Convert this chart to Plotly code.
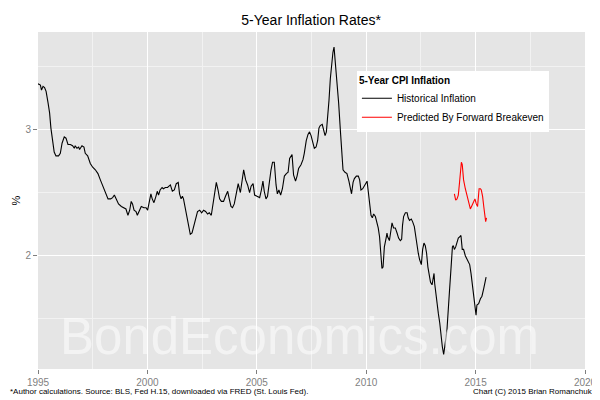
import plotly.graph_objects as go

# Historical 5-year CPI inflation (decimal year, %)
hist_year = [
    1995.00, 1995.11, 1995.16, 1995.23, 1995.30, 1995.37, 1995.46, 1995.53, 1995.59, 1995.67,
    1995.74, 1995.82, 1995.94, 1996.02, 1996.10, 1996.20, 1996.28, 1996.37, 1996.48, 1996.58,
    1996.66, 1996.70, 1996.78, 1996.86, 1996.90, 1997.01, 1997.10, 1997.16, 1997.27, 1997.39,
    1997.50, 1997.62, 1997.74, 1997.85, 1997.97, 1998.08, 1998.20, 1998.32, 1998.41, 1998.49,
    1998.56, 1998.68, 1998.81, 1998.93, 1999.02, 1999.11, 1999.19, 1999.26, 1999.32, 1999.39,
    1999.48, 1999.54, 1999.63, 1999.72, 1999.84, 1999.94, 2000.01, 2000.09, 2000.16, 2000.22,
    2000.30, 2000.39, 2000.45, 2000.51, 2000.58, 2000.67, 2000.73, 2000.82, 2000.92, 2001.05,
    2001.14, 2001.23, 2001.32, 2001.41, 2001.47, 2001.54, 2001.60, 2001.65, 2001.73, 2001.81,
    2001.88, 2001.96, 2002.04, 2002.11, 2002.19, 2002.29, 2002.39, 2002.48, 2002.57, 2002.66,
    2002.75, 2002.83, 2002.92, 2003.00, 2003.07, 2003.15, 2003.23, 2003.30, 2003.38, 2003.48,
    2003.57, 2003.67, 2003.74, 2003.82, 2003.89, 2003.97, 2004.06, 2004.15, 2004.25, 2004.32,
    2004.40, 2004.49, 2004.58, 2004.67, 2004.74, 2004.83, 2004.90, 2005.01, 2005.13, 2005.21,
    2005.28, 2005.34, 2005.42, 2005.49, 2005.57, 2005.65, 2005.72, 2005.80, 2005.88, 2005.94,
    2006.01, 2006.09, 2006.17, 2006.26, 2006.35, 2006.43, 2006.50, 2006.61, 2006.68, 2006.77,
    2006.84, 2006.91, 2007.02, 2007.11, 2007.17, 2007.26, 2007.34, 2007.41, 2007.48, 2007.55,
    2007.63, 2007.71, 2007.78, 2007.84, 2007.90, 2007.99, 2008.05, 2008.12, 2008.18, 2008.24,
    2008.30, 2008.36, 2008.42, 2008.48, 2008.53, 2008.59, 2008.67, 2008.74, 2008.82, 2008.88,
    2008.94, 2009.03, 2009.12, 2009.21, 2009.27, 2009.33, 2009.40, 2009.46, 2009.55, 2009.64,
    2009.70, 2009.76, 2009.84, 2009.91, 2009.97, 2010.04, 2010.10, 2010.16, 2010.22, 2010.28,
    2010.34, 2010.42, 2010.49, 2010.55, 2010.61, 2010.68, 2010.72, 2010.77, 2010.83, 2010.91,
    2010.95, 2010.98, 2011.06, 2011.13, 2011.18, 2011.25, 2011.33, 2011.41, 2011.48, 2011.56,
    2011.62, 2011.66, 2011.71, 2011.79, 2011.87, 2011.92, 2011.98, 2012.06, 2012.12, 2012.20,
    2012.26, 2012.32, 2012.38, 2012.44, 2012.52, 2012.58, 2012.64, 2012.70, 2012.76, 2012.82,
    2012.88, 2012.94, 2013.01, 2013.05, 2013.10, 2013.13, 2013.17, 2013.24, 2013.30, 2013.36,
    2013.42, 2013.48, 2013.54, 2013.58, 2013.63, 2013.69, 2013.75, 2013.81, 2013.88, 2013.94,
    2013.98, 2014.03, 2014.09, 2014.15, 2014.21, 2014.27, 2014.33, 2014.39, 2014.45, 2014.53,
    2014.61, 2014.67, 2014.73, 2014.79, 2014.85, 2014.91, 2014.95, 2015.02, 2015.06, 2015.14,
    2015.22, 2015.29, 2015.37, 2015.44, 2015.48,
]
hist_value = [
    3.36, 3.35, 3.31, 3.34, 3.33, 3.30, 3.21, 3.13, 3.01, 2.89,
    2.82, 2.79, 2.79, 2.81, 2.89, 2.94, 2.93, 2.88, 2.88, 2.87,
    2.85, 2.87, 2.85, 2.86, 2.84, 2.87, 2.86, 2.81, 2.79, 2.73,
    2.70, 2.68, 2.65, 2.60, 2.55, 2.49, 2.45, 2.45, 2.46, 2.48,
    2.45, 2.41, 2.39, 2.38, 2.37, 2.32, 2.36, 2.43, 2.41, 2.36,
    2.35, 2.32, 2.36, 2.39, 2.38, 2.38, 2.36, 2.43, 2.49, 2.45,
    2.42, 2.47, 2.51, 2.48, 2.52, 2.54, 2.53, 2.54, 2.54, 2.56,
    2.51, 2.52, 2.57, 2.58, 2.49, 2.45, 2.47, 2.45, 2.38, 2.31,
    2.24, 2.17, 2.18, 2.23, 2.30, 2.35, 2.36, 2.34, 2.36, 2.35,
    2.33, 2.34, 2.32, 2.40, 2.49, 2.58, 2.52, 2.45, 2.43, 2.43,
    2.47, 2.51, 2.45, 2.39, 2.38, 2.41, 2.49, 2.57, 2.50, 2.59,
    2.68, 2.60, 2.56, 2.50, 2.55, 2.57, 2.48, 2.47, 2.46, 2.52,
    2.59, 2.51, 2.45, 2.47, 2.59, 2.68, 2.74, 2.74, 2.56, 2.49,
    2.52, 2.48, 2.53, 2.63, 2.65, 2.66, 2.77, 2.80, 2.64, 2.59,
    2.63, 2.69, 2.72, 2.76, 2.81, 2.91, 2.96, 2.98, 2.95, 2.89,
    2.85, 2.86, 2.91, 3.01, 3.03, 3.04, 2.99, 2.95, 2.98, 3.09,
    3.23, 3.40, 3.53, 3.61, 3.65, 3.53, 3.40, 3.21, 2.99, 2.82,
    2.68, 2.66, 2.65, 2.59, 2.54, 2.49, 2.58, 2.61, 2.63, 2.63,
    2.60, 2.52, 2.53, 2.55, 2.57, 2.59, 2.50, 2.41, 2.32, 2.30,
    2.33, 2.31, 2.27, 2.22, 2.15, 2.02, 1.90, 1.91, 2.07, 2.14,
    2.18, 2.15, 2.12, 2.20, 2.26, 2.22, 2.22, 2.18, 2.14, 2.12,
    2.13, 2.24, 2.31, 2.34, 2.34, 2.30, 2.28, 2.29, 2.27, 2.23,
    2.15, 2.08, 2.02, 1.97, 1.93, 2.05, 2.10, 2.08, 2.02, 1.91,
    1.83, 1.79, 1.77, 1.83, 1.86, 1.78, 1.71, 1.64, 1.54, 1.47,
    1.36, 1.28, 1.22, 1.29, 1.33, 1.41, 1.54, 1.73, 1.91, 2.07,
    2.08, 2.05, 2.07, 2.11, 2.14, 2.15, 2.16, 2.05, 2.05, 2.00,
    1.97, 1.96, 1.93, 1.86, 1.78, 1.70, 1.64, 1.53, 1.61, 1.62,
    1.66, 1.68, 1.74, 1.82, 1.83,
]

# Predicted by forward breakeven
pred_year = [
    2014.03, 2014.09, 2014.15, 2014.21, 2014.26, 2014.30, 2014.35, 2014.39, 2014.45, 2014.53,
    2014.61, 2014.68, 2014.76, 2014.84, 2014.91, 2014.97, 2015.03, 2015.09, 2015.16, 2015.22,
    2015.26, 2015.32, 2015.38, 2015.43, 2015.46, 2015.50,
]
pred_value = [
    2.49, 2.44, 2.45, 2.48, 2.57, 2.68, 2.74, 2.72, 2.60, 2.53,
    2.47, 2.41, 2.37, 2.40, 2.43, 2.45, 2.41, 2.39, 2.53, 2.53,
    2.52, 2.47, 2.38, 2.32, 2.27, 2.30,
]

x_ticks = [1995, 2000, 2005, 2010, 2015, 2020]
y_ticks = [2, 3]

FONT = "Arial, Liberation Sans, sans-serif"
GREY_TXT = "#7F7F7F"

fig = go.Figure()
fig.add_trace(go.Scatter(x=hist_year, y=hist_value, mode="lines",
                         name="Historical Inflation",
                         line=dict(color="black", width=1.1)))
fig.add_trace(go.Scatter(x=pred_year, y=pred_value, mode="lines",
                         name="Predicted By Forward Breakeven",
                         line=dict(color="#FF0000", width=1.1)))

# watermark
fig.add_annotation(text="BondEconomics.com", xref="paper", yref="paper",
                   x=0.478, y=0.095, xanchor="center", yanchor="middle",
                   showarrow=False,
                   font=dict(family=FONT, size=51, color="rgba(255,255,255,0.55)"))

# y axis title
fig.add_annotation(text="%", xref="paper", yref="paper", x=-0.042, y=0.5,
                   xanchor="center", yanchor="middle", textangle=-90, showarrow=False,
                   font=dict(family=FONT, size=11, color="black"))

# captions
fig.add_annotation(text="*Author calculations. Source: BLS, Fed H.15, downloaded via FRED (St. Louis Fed).",
                   xref="paper", yref="paper", x=-0.0548, y=-0.066,
                   xanchor="left", yanchor="middle", showarrow=False,
                   font=dict(family=FONT, size=8, color="black"))
fig.add_annotation(text="Chart (C) 2015 Brian Romanchuk",
                   xref="paper", yref="paper", x=1.018, y=-0.066,
                   xanchor="right", yanchor="middle", showarrow=False,
                   font=dict(family=FONT, size=8, color="black"))

# the page puts the figure 8px in from the top-left corner, so the
# figure is 8px smaller and the margins are trimmed to match
fig.update_layout(
    width=592, height=392,
    margin=dict(l=30, r=15, t=24, b=31),
    paper_bgcolor="white",
    plot_bgcolor="#E5E5E5",
    font=dict(family=FONT, color="black"),
    title=dict(text="5-Year Inflation Rates*", x=0.512, xanchor="center",
               y=0.969, yanchor="middle", font=dict(size=14, color="black")),
    showlegend=True,
    legend=dict(
        title=dict(text="<b>5-Year CPI Inflation</b>", font=dict(size=10)),
        x=0.583, xanchor="left", y=0.885, yanchor="top",
        bgcolor="white", font=dict(size=10, color="black"),
        tracegroupgap=0, itemwidth=30,
    ),
    xaxis=dict(
        range=[1995, 2020], tickvals=x_ticks, ticktext=[str(v) for v in x_ticks],
        showgrid=True, gridcolor="white", gridwidth=1.2,
        minor=dict(dtick=2.5, tick0=1995, showgrid=True, gridcolor="#F2F2F2", gridwidth=0.6),
        ticks="outside", ticklen=4, tickcolor=GREY_TXT, tickwidth=1,
        tickfont=dict(size=10, color=GREY_TXT),
        zeroline=False, showline=False, automargin=False,
    ),
    yaxis=dict(
        range=[1.104, 3.77], tickvals=y_ticks, ticktext=[str(v) for v in y_ticks],
        showgrid=True, gridcolor="white", gridwidth=1.2,
        minor=dict(dtick=0.5, tick0=1.5, showgrid=True, gridcolor="#F2F2F2", gridwidth=0.6),
        ticks="outside", ticklen=4, tickcolor=GREY_TXT, tickwidth=1,
        tickfont=dict(size=10, color=GREY_TXT),
        zeroline=False, showline=False, automargin=False,
    ),
)

fig.write_html("out.html")
